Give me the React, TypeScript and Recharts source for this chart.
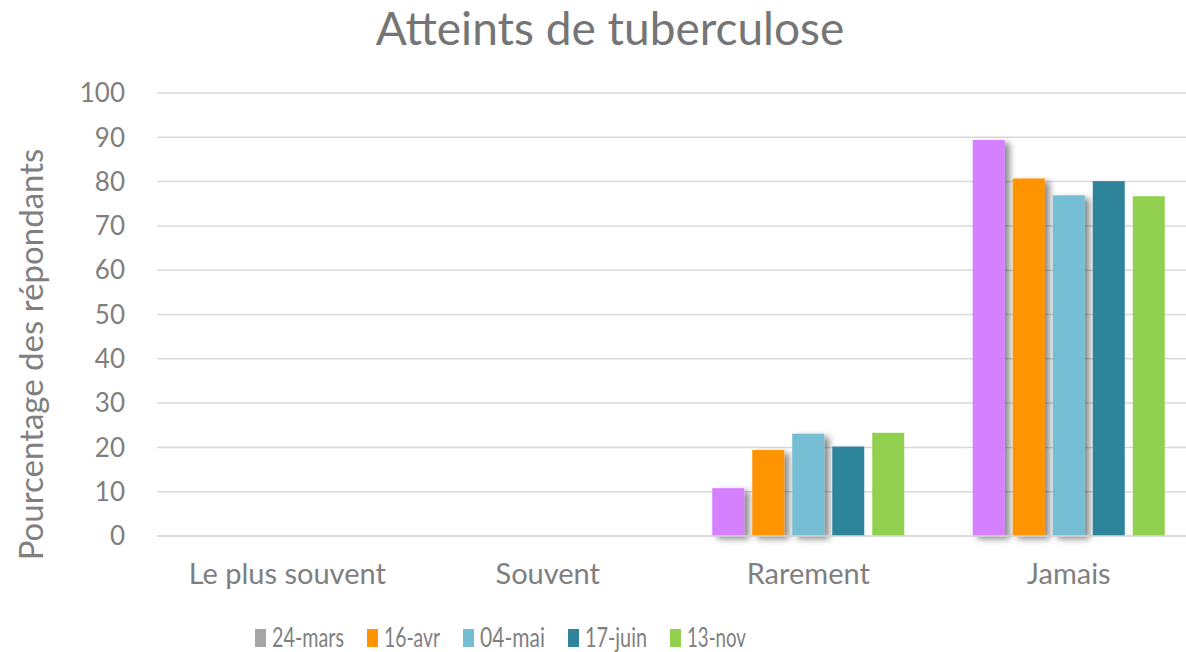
import React from "react";
import { BarChart, Bar, XAxis, YAxis, CartesianGrid, Legend } from "recharts";

const categories = ["Le plus souvent", "Souvent", "Rarement", "Jamais"];
const seriesNames = ["24-mars", "16-avr", "04-mai", "17-juin", "13-nov"];
const mars24 = [0, 0, 10.8, 89.4];
const avr16 = [0, 0, 19.4, 80.7];
const mai04 = [0, 0, 23.1, 76.9];
const juin17 = [0, 0, 20.2, 80.1];
const nov13 = [0, 0, 23.3, 76.7];
const yTicks = [0, 10, 20, 30, 40, 50, 60, 70, 80, 90, 100];

const barColors = ["#D580FF", "#FF9300", "#74BED4", "#2E849B", "#92D050"];
const legendColors = ["#A5A5A5", "#FF9300", "#74BED4", "#2E849B", "#92D050"];
const shadowed = [true, true, true, false, false];

const seriesValues = [mars24, avr16, mai04, juin17, nov13];
const keys = ["s0", "s1", "s2", "s3", "s4"];

const data = categories.map((c, i) => {
  const row: Record<string, string | number> = { name: c };
  keys.forEach((k, j) => {
    row[k] = seriesValues[j][i];
  });
  return row;
});

const FONT = "Lato, 'Open Sans', sans-serif";
const GRAY = "#7F7F7F";

const makeShape = (withShadow: boolean) => (props: any) => {
  const { x, y, width, height, fill } = props;
  if (!height || height <= 0) return <g />;
  return (
    <rect
      x={x}
      y={y}
      width={width}
      height={height}
      fill={fill}
      filter={withShadow ? "url(#barShadow)" : undefined}
    />
  );
};

// legend text widths (px, as drawn in the reference's condensed legend)
const legendTextWidths = [72, 56, 65, 62, 59];

const LegendContent = () => {
  let cursor = 255;
  const items = seriesNames.map((n, i) => {
    const sx = cursor;
    const tx = sx + 17;
    cursor = tx + legendTextWidths[i] + 23;
    return (
      <g key={n}>
        <rect x={sx} y={17} width={11} height={18} fill={legendColors[i]} />
        <text
          x={tx}
          y={35}
          fontFamily={FONT}
          fontSize={27}
          fill={GRAY}
          textLength={legendTextWidths[i]}
          lengthAdjust="spacingAndGlyphs"
        >
          {n}
        </text>
      </g>
    );
  });
  return (
    <svg width={1186} height={40} style={{ display: "block" }}>
      {items}
    </svg>
  );
};

const YLabel = (props: any) => {
  const { viewBox } = props;
  const cx = 43;
  const cy = viewBox.y + viewBox.height / 2 + 40;
  return (
    <text
      x={cx}
      y={cy}
      transform={`rotate(-90, ${cx}, ${cy})`}
      textAnchor="middle"
      fill={GRAY}
      fontSize={33}
      fontFamily={FONT}
    >
      Pourcentage des répondants
    </text>
  );
};

export default function App() {
  return (
    <div
      style={{
        position: "absolute",
        left: 0,
        top: 0,
        width: 1186,
        height: 652,
        background: "#fff",
        overflow: "hidden",
      }}
    >
      <svg width={0} height={0} style={{ position: "absolute" }}>
        <defs>
          <filter id="barShadow" x="-30%" y="-10%" width="180%" height="130%">
            <feDropShadow dx={5} dy={3} stdDeviation={3} floodColor="#000" floodOpacity={0.45} />
          </filter>
        </defs>
      </svg>
      <svg width={1186} height={70} style={{ position: "absolute", left: 0, top: 0 }}>
        <text x={610} y={45} textAnchor="middle" fontFamily={FONT} fontSize={46} fill="#757575">
          Atteints de tuberculose
        </text>
      </svg>
      <BarChart
        width={1186}
        height={652}
        data={data}
        margin={{ top: 93, right: -13, left: 11, bottom: 16 }}
        barCategoryGap="13.15%"
        barGap={8}
        style={{ overflow: "visible" }}
      >
        <CartesianGrid vertical={false} stroke="#D9D9D9" strokeWidth={1.5} />
        <XAxis
          dataKey="name"
          axisLine={{ stroke: "#D9D9D9", strokeWidth: 1.5 }}
          tickLine={false}
          tickSize={0}
          tickMargin={27}
          height={60}
          tick={{ fill: GRAY, fontSize: 29, fontFamily: FONT }}
        />
        <YAxis
          domain={[0, 100]}
          ticks={yTicks}
          axisLine={false}
          tickLine={false}
          tickSize={0}
          tickMargin={32}
          width={146}
          tick={{ fill: GRAY, fontSize: 26, fontFamily: FONT }}
          label={<YLabel />}
        />
        <Legend
          verticalAlign="bottom"
          content={<LegendContent />}
          wrapperStyle={{ top: 612, left: 0, width: 1186, height: 40 }}
        />
        {keys.map((k, i) => (
          <Bar
            key={k}
            dataKey={k}
            name={seriesNames[i]}
            fill={barColors[i]}
            isAnimationActive={false}
            shape={makeShape(shadowed[i])}
          />
        ))}
      </BarChart>
    </div>
  );
}
